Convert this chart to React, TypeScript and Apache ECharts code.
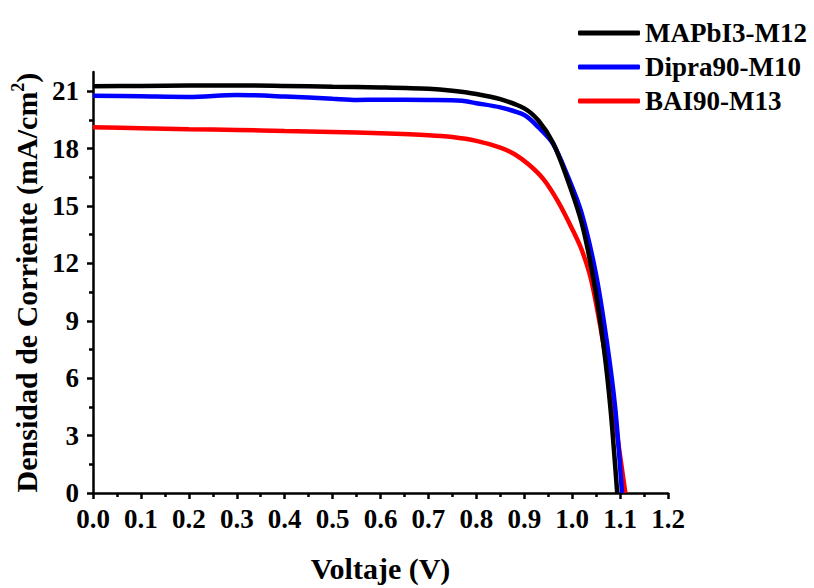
import React, { useEffect, useRef } from "react";
import * as echarts from "echarts";

// J–V curves: voltage (V) and current density (mA/cm²) per device
const seriesNames = ["MAPbI3-M12", "Dipra90-M10", "BAI90-M13"];
const seriesColors = ["#000000", "#0000ff", "#ff0000"];

const vMAPbI3 = [0, 0.1, 0.2, 0.3, 0.4, 0.5, 0.6, 0.7, 0.75, 0.8, 0.85, 0.9, 0.93, 0.96, 0.99, 1.02, 1.045, 1.065, 1.08, 1.094];
const jMAPbI3 = [21.26, 21.27, 21.29, 21.3, 21.27, 21.23, 21.19, 21.12, 21.02, 20.85, 20.58, 20.1, 19.45, 18.3, 16.4, 14.1, 11.1, 7.8, 4.4, 0];

const vDipra = [0, 0.1, 0.2, 0.3, 0.4, 0.5, 0.55, 0.6, 0.7, 0.77, 0.8, 0.85, 0.9, 0.93, 0.96, 0.99, 1.02, 1.05, 1.073, 1.09, 1.104];
const jDipra = [20.76, 20.73, 20.7, 20.8, 20.72, 20.6, 20.54, 20.55, 20.54, 20.5, 20.37, 20.15, 19.75, 19.1, 18.25, 16.6, 14.6, 11.4, 7.8, 4.4, 0];

const vBAI = [0, 0.1, 0.2, 0.3, 0.4, 0.5, 0.6, 0.7, 0.75, 0.8, 0.85, 0.88, 0.91, 0.94, 0.97, 1.0, 1.02, 1.04, 1.065, 1.086, 1.111];
const jBAI = [19.11, 19.06, 19.01, 18.97, 18.92, 18.87, 18.8, 18.7, 18.6, 18.4, 18.05, 17.7, 17.15, 16.4, 15.25, 13.8, 12.7, 11.1, 7.8, 4.4, 0];

const yMajorTicks = [0, 3, 6, 9, 12, 15, 18, 21];
const yMinorTicks = [1.5, 4.5, 7.5, 10.5, 13.5, 16.5, 19.5];

const FONT = "'Liberation Serif', 'Times New Roman', serif";

const zip = (xs: number[], ys: number[]) => xs.map((x, i) => [x, ys[i]]);

export default function App() {
  const ref = useRef<HTMLDivElement>(null);

  useEffect(() => {
    if (!ref.current) return;
    const chart = echarts.init(ref.current, null, { renderer: "svg" });
    const dataSets = [zip(vMAPbI3, jMAPbI3), zip(vDipra, jDipra), zip(vBAI, jBAI)];

    const axisLine = { lineStyle: { color: "#000", width: 2.5 } };
    const tickLabel = {
      fontFamily: FONT,
      fontWeight: "bold",
      fontSize: 27,
      lineHeight: 22,
      color: "#000",
    };

    chart.setOption({
      animation: false,
      backgroundColor: "#ffffff",
      grid: { left: 93, right: 146, top: 72, bottom: 89 },
      legend: {
        orient: "vertical",
        left: 573,
        top: 13,
        itemWidth: 62,
        itemHeight: 5,
        itemGap: 4,
        icon: "roundRect",
        textStyle: {
          fontFamily: FONT,
          fontWeight: "bold",
          fontSize: 27,
          color: "#000",
          lineHeight: 30,
        },
        data: seriesNames,
      },
      xAxis: {
        type: "value",
        min: 0,
        max: 1.2,
        interval: 0.1,
        name: "Voltaje (V)",
        nameLocation: "middle",
        nameGap: 60,
        nameTextStyle: { fontFamily: FONT, fontWeight: "bold", fontSize: 30, color: "#000" },
        axisLine,
        axisTick: { length: 6, lineStyle: { color: "#000", width: 2.5 } },
        minorTick: { show: true, splitNumber: 2, length: 4, lineStyle: { color: "#000", width: 2.5 } },
        splitLine: { show: false },
        axisLabel: {
          ...tickLabel,
          margin: 15,
          formatter: (v: number) => v.toFixed(1),
        },
      },
      yAxis: [
        {
          type: "value",
          min: 0,
          max: 22,
          name: "{a|Densidad de Corriente (mA/cm}{s|2}{a|)}",
          nameLocation: "middle",
          nameGap: 48,
          nameTextStyle: {
            rich: {
              a: { fontFamily: FONT, fontWeight: "bold", fontSize: 30, color: "#000", lineHeight: 34 },
              s: { fontFamily: FONT, fontWeight: "bold", fontSize: 18, color: "#000", verticalAlign: "top", lineHeight: 34 },
            },
          },
          axisLine,
          axisTick: { length: 6, customValues: yMajorTicks, lineStyle: { color: "#000", width: 2.5 } },
          splitLine: { show: false },
          axisLabel: {
            ...tickLabel,
            customValues: yMajorTicks,
            margin: 14,
          },
        },
        {
          type: "value",
          min: 0,
          max: 22,
          position: "left",
          axisLine: { show: false },
          axisTick: { length: 4, customValues: yMinorTicks, lineStyle: { color: "#000", width: 2.5 } },
          axisLabel: { show: false },
          splitLine: { show: false },
        },
      ],
      series: seriesNames.map((name, i) => ({
        name,
        type: "line",
        data: dataSets[i],
        yAxisIndex: 0,
        smooth: 0.3,
        showSymbol: false,
        symbol: "none",
        color: seriesColors[i],
        lineStyle: { color: seriesColors[i], width: 4.5 },
        z: 3 - i,
      })),
    });

    return () => chart.dispose();
  }, []);

  return (
    <div
      ref={ref}
      style={{ position: "absolute", left: 0, top: 0, width: 814, height: 588, background: "#fff" }}
    />
  );
}
